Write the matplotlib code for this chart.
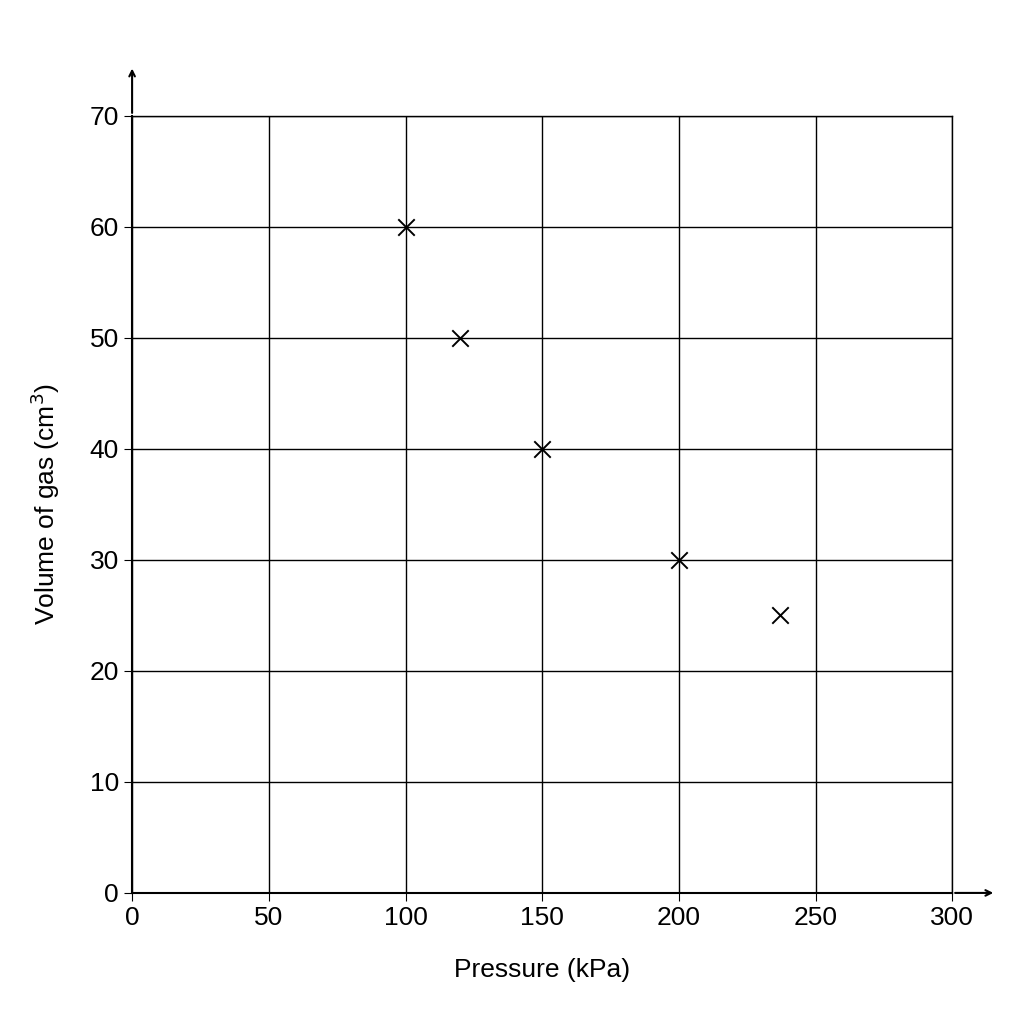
import matplotlib
matplotlib.use("Agg")
import matplotlib.pyplot as plt

plt.rcParams['font.family'] = ['Liberation Sans', 'DejaVu Sans']

pressure = [100, 120, 150, 200, 237]
volume = [60, 50, 40, 30, 25]
x_ticks = [0, 50, 100, 150, 200, 250, 300]
y_ticks = [0, 10, 20, 30, 40, 50, 60, 70]

fig = plt.figure(figsize=(10.24, 10.24), dpi=100)
ax = fig.add_axes([0.129, 0.128, 0.801, 0.759])

ax.set_xlim(0, 300)
ax.set_ylim(0, 70)
ax.set_xticks(x_ticks)
ax.set_yticks(y_ticks)
ax.grid(True, color="black", linewidth=1)
ax.tick_params(labelsize=19, length=6, color="black")
for s in ["top", "right"]:
    ax.spines[s].set_linewidth(1)
for s in ["left", "bottom"]:
    ax.spines[s].set_linewidth(1.5)

ax.scatter(pressure, volume, marker="x", s=140, color="black", linewidths=1.4, zorder=3, clip_on=False)

# axis arrows
ax.annotate("", xy=(316, 0), xytext=(300, 0), xycoords="data",
            arrowprops=dict(arrowstyle="->", color="black", lw=1.5), annotation_clip=False)
ax.annotate("", xy=(0, 74.5), xytext=(0, 70), xycoords="data",
            arrowprops=dict(arrowstyle="->", color="black", lw=1.5), annotation_clip=False)

ax.set_xlabel("Pressure (kPa)", fontsize=19, labelpad=20)
ax.set_ylabel("Volume of gas (cm$^3$)", fontsize=19, labelpad=20)

fig.savefig("out.png", dpi=100, facecolor="white")
